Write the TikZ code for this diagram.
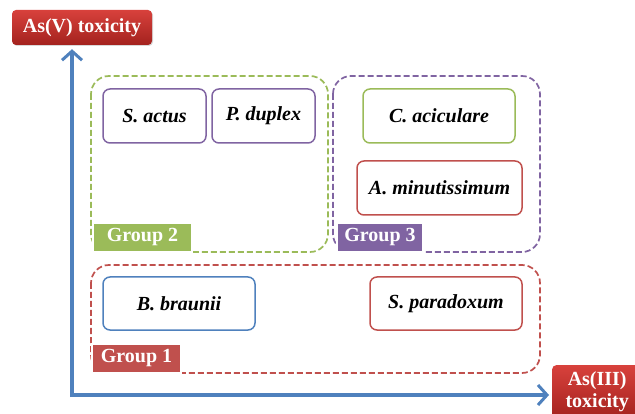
\documentclass[tikz,border=0pt]{standalone}
\usepackage{fontspec}
\setmainfont{Liberation Serif}
\usetikzlibrary{arrows.meta,shadows}
\definecolor{cgreen}{HTML}{9BBB59}
\definecolor{cpurple}{HTML}{8064A2}
\definecolor{cred}{HTML}{C0504D}
\definecolor{cblue}{HTML}{4F81BD}
\definecolor{ctop}{HTML}{D8413C}
\definecolor{cbot}{HTML}{A3221E}
\tikzset{
  species/.style={draw=#1, line width=1.5pt, rounded corners=7pt, fill=white,
    font=\fontsize{20}{23}\selectfont\bfseries\itshape},
  grp/.style={draw=#1, line width=1.7pt, dash pattern=on 6pt off 3pt, rounded corners=18pt},
  glabel/.style={fill=#1, draw=white, line width=1.2pt, text=white, inner sep=0pt,
    font=\fontsize{20}{23}\selectfont\bfseries, drop shadow={opacity=0.25, shadow xshift=1pt, shadow yshift=-1pt}},
  axbox/.style={top color=ctop, bottom color=cbot, rounded corners=4pt, text=white, align=center,
    inner sep=0pt, font=\fontsize{20}{22}\selectfont\bfseries, drop shadow={opacity=0.3, shadow xshift=1pt, shadow yshift=-1pt}},
  axis/.style={draw=cblue, line width=4pt, -{Straight Barb[length=9pt,width=20pt,line width=3pt]}}
}
\begin{document}
\begin{tikzpicture}[x=1pt,y=-1pt]
\useasboundingbox (0,0) rectangle (635,414);
% groups
\draw[grp=cgreen] (91,76) rectangle (328,252);
\draw[grp=cpurple] (333,76) rectangle (540,252);
\draw[grp=cred] (91,265) rectangle (540,373);
% species
\node[species=cpurple, minimum width=103pt, minimum height=54pt] (sa) at (154.5,116) {S. actus};
\node[species=cpurple, minimum width=103pt, minimum height=54pt] (pd) at (263.5,116) {P. duplex};
\node[species=cgreen, minimum width=152pt, minimum height=54pt] (ca) at (439,116) {C. aciculare};
\node[species=cred, minimum width=165pt, minimum height=54pt] (am) at (439.5,188) {A. minutissimum};
\node[species=cblue, minimum width=152pt, minimum height=53pt] (bb) at (179,303.5) {B. braunii};
\node[species=cred, minimum width=152pt, minimum height=53pt] (sp) at (446,303.5) {S. paradoxum};
% group labels
\node[glabel=cgreen, minimum width=99pt, minimum height=29pt] (g2) at (142.5,237.5) {Group 2};
\node[glabel=cpurple, minimum width=86pt, minimum height=29pt] (g3) at (380,237.5) {Group 3};
\node[glabel=cred, minimum width=89pt, minimum height=29pt] (g1) at (136.5,358.5) {Group 1};
% axis boxes
\node[axbox, minimum width=140pt, minimum height=35pt] (yl) at (82,27.5) {As(V) toxicity};
\node[axbox, minimum width=90pt, minimum height=54pt, anchor=north west] (xl) at (552,365) {As(III)\\toxicity};
% axes
\coordinate (o) at (72,395);
\draw[axis, shorten >=4pt] ([yshift=-2pt]o) -- (o |- yl.south);
\draw[axis, shorten >=3pt] ([xshift=-2pt]o) -- (o -| xl.west);
\end{tikzpicture}
\end{document}
